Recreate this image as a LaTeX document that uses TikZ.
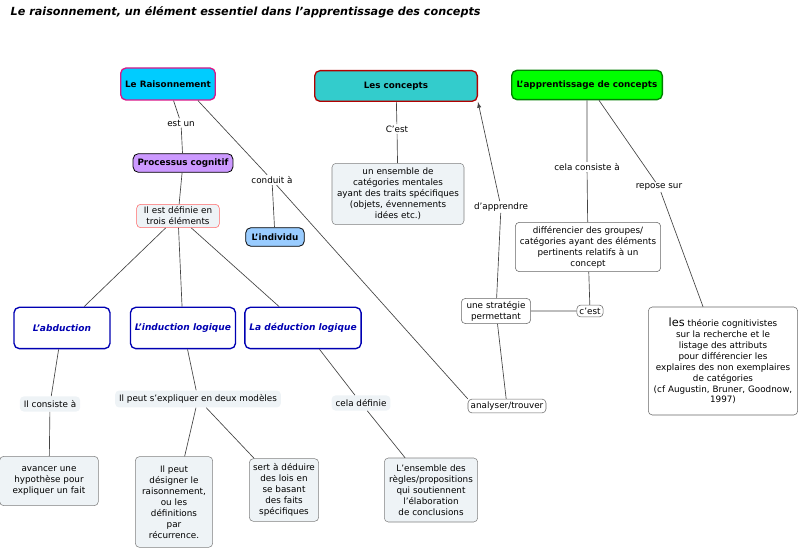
\documentclass[tikz,border=0pt]{standalone}
\usepackage{fontspec}
\setmainfont{DejaVu Sans}
\usetikzlibrary{positioning}
\definecolor{paleblue}{HTML}{EEF3F6}
\definecolor{linkgray}{HTML}{444444}
\definecolor{procviolet}{HTML}{CC99FF}
\definecolor{indivblue}{HTML}{99CCFF}
\definecolor{raiscyan}{HTML}{00CCFF}
\definecolor{conceptteal}{HTML}{33CCCC}
\tikzset{
	every node/.style={execute at begin node={\hyphenpenalty=10000}},
	concept/.style={draw=gray, rounded corners=3pt, fill=paleblue, align=center, font=\fontsize{6.6}{8.2}\selectfont, inner sep=2pt},
	plain/.style={draw=gray!80!black, rounded corners=3pt, fill=white, align=center, font=\fontsize{6.6}{8.2}\selectfont, inner sep=2pt},
	head/.style={rounded corners=4pt, line width=1pt, align=center, font=\fontsize{6.6}{8}\bfseries\selectfont},
	mode/.style={draw=blue!70!black, line width=1pt, rounded corners=4pt, fill=white, text=blue!70!black, font=\fontsize{6.8}{8}\bfseries\itshape\selectfont, minimum height=31pt},
	lbl/.style={fill=white, inner sep=1pt, font=\fontsize{6.6}{8}\selectfont},
	lblbox/.style={fill=paleblue, rounded corners=3pt, inner sep=3pt, font=\fontsize{6.6}{8}\selectfont},
	link/.style={draw=linkgray, line width=0.5pt}
}
\begin{document}
\begin{tikzpicture}[x=0.75pt, y=-0.75pt]
	\useasboundingbox (0,0) rectangle (800,552);
	\node[anchor=west, font=\fontsize{8.4}{10}\bfseries\itshape\selectfont] (title) at (6,12) {Le raisonnement, un élément essentiel dans l'apprentissage des concepts};

	% top concepts
	\node[head, draw=magenta!80!violet, fill=raiscyan, minimum width=67pt, minimum height=24pt] (rais) at (168,84) {Le Raisonnement};
	\node[head, draw=red!70!black, fill=conceptteal, minimum width=122pt, minimum height=23pt] (concepts) at (396,86) {Les concepts};
	\node[head, draw=green!50!black, fill=green, minimum width=113pt, minimum height=22pt] (appr) at (587,85) {L'apprentissage de concepts};

	% left branch
	\node[lbl] (estun) at (181,123) {est un};
	\node[head, draw=black, line width=0.6pt, fill=procviolet, minimum width=74pt, minimum height=14pt] (proc) at (183,163) {Processus cognitif};
	\node[concept, draw=red!60, text width=58pt] (trois) at (178,216) {Il est définie en\\trois éléments};
	\node[lbl] (conduit) at (272,180) {conduit à};
	\node[head, draw=black, line width=0.6pt, fill=indivblue, minimum width=44pt, minimum height=14pt] (indiv) at (275,237) {L'individu};

	\node[mode, minimum width=72pt] (abd) at (62,328) {L'abduction};
	\node[mode, minimum width=77pt] (ind) at (183,328) {L'induction logique};
	\node[mode, minimum width=85pt] (ded) at (303,328) {La déduction logique};

	\node[lblbox] (consiste) at (50,404) {Il consiste à};
	\node[lblbox] (expliquer) at (198,399) {Il peut s'expliquer en deux modèles};
	\node[lblbox] (definie) at (361,403) {cela définie};

	\node[concept, text width=70pt, minimum height=37pt] (avancer) at (49,481) {avancer une hypothèse pour expliquer un fait};
	\node[concept, text width=54pt, minimum height=68pt] (designer) at (174,502) {Il peut désigner le raisonnement, ou les\\définitions\\par\\récurrence.};
	\node[concept, text width=48pt, minimum height=47pt] (deduire) at (284,490) {sert à déduire des lois en se basant des faits spécifiques};
	\node[concept, text width=66pt, minimum height=48pt] (ensregles) at (431,490) {L'ensemble des règles/propositions qui soutiennent l'élaboration\\de conclusions};

	% right branch
	\node[lbl] (cest) at (397,129) {C'est};
	\node[concept, text width=95pt, minimum height=46pt] (ensemble) at (398,194) {un ensemble de\\catégories mentales\\ayant des traits spécifiques\\(objets, évennements\\idées etc.)};
	\node[lbl] (apprendre) at (501,207) {d'apprendre};
	\node[lbl] (cela) at (587,167) {cela consiste à};
	\node[lbl] (repose) at (659,187) {repose sur};
	\node[plain, text width=105pt, minimum height=37pt] (diff) at (588,247) {différencier des groupes/\\catégories ayant des éléments pertinents relatifs à un\\concept};
	\node[plain, text width=48pt] (strat) at (496,311) {une stratégie\\permettant};
	\node[plain] (cest2) at (590,311) {c'est};
	\node[plain, text width=108pt, minimum height=81pt] (theorie) at (723,361) {{\fontsize{8.5}{9}\selectfont les} théorie cognitivistes\\sur la recherche et le\\listage des attributs\\pour différencier les\\explaires des non exemplaires\\de catégories\\(cf Augustin, Bruner, Goodnow,\\1997)};
	\node[plain] (analyser) at (507,406) {analyser/trouver};

	% connectors
	\draw[link] (rais.south east) ++(-18,0) coordinate (r1);
	\draw[link] (rais) -- (estun) -- (proc);
	\draw[link] (r1) -- (conduit);
	\draw[link] (conduit) -- (indiv);
	\draw[link] (conduit) -- (analyser.north west);
	\draw[link] (proc) -- (trois);
	\draw[link] (trois) -- (abd);
	\draw[link] (trois) -- (ind);
	\draw[link] (trois) -- (ded);
	\draw[link] (abd) -- (consiste) -- (avancer);
	\draw[link] (ind) -- (expliquer);
	\draw[link] (expliquer) -- (designer);
	\draw[link] (expliquer) -- (deduire);
	\draw[link] (ded) -- (definie) -- (ensregles);
	\draw[link] (concepts) -- (cest) -- (ensemble);
	\draw[link] (appr) -- (cela) -- (diff);
	\draw[link] (appr.south) ++(12,0) coordinate (a1);
	\draw[link] (a1) -- (repose) -- (theorie);
	\draw[link] (diff) -- (cest2) -- (strat);
	\draw[link] (strat) -- (apprendre);
	\draw[link, -latex] (apprendre) -- (concepts.south east);
	\draw[link] (strat) -- (analyser);
\end{tikzpicture}
\end{document}
